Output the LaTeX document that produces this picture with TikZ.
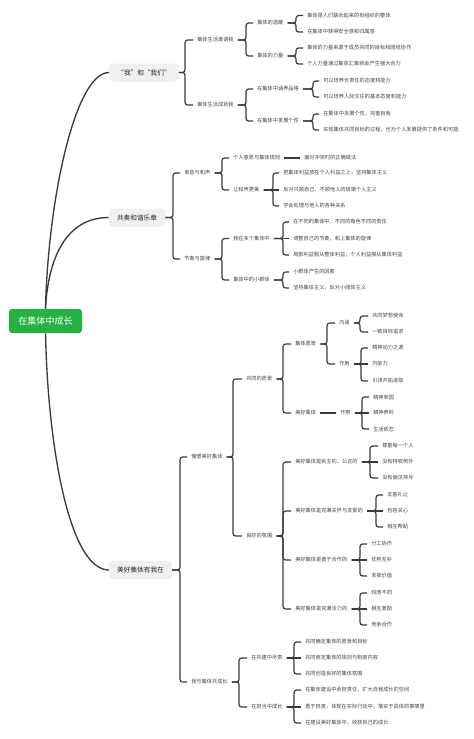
\documentclass[tikz,border=0pt]{standalone}
\usepackage{fontspec}
\setmainfont{Noto Sans CJK SC}

\definecolor{rootgreen}{RGB}{38,178,66}
\definecolor{boxgray}{RGB}{240,240,240}
\definecolor{linegray}{RGB}{58,58,58}
\definecolor{txtgray}{RGB}{68,68,68}

\tikzset{
  rootbox/.style={fill=rootgreen, text=white, rounded corners=2.25pt, minimum width=54.75pt, minimum height=18pt, inner sep=0pt, font=\fontsize{6.8pt}{8pt}\selectfont},
  mainbox/.style={fill=boxgray, text=black!85, rounded corners=2.25pt, inner xsep=6pt, inner ysep=0pt, minimum height=13.5pt, font=\fontsize{5pt}{6pt}\selectfont},
  leaf/.style={anchor=west, inner xsep=3pt, inner ysep=1pt, text=txtgray, font=\fontsize{3.9pt}{4.6pt}\selectfont},
  conn/.style={draw=linegray, line width=0.9pt, rounded corners=2pt},
  limb/.style={draw=linegray, line width=1pt},
}

\begin{document}
\begin{tikzpicture}[x=0.75pt,y=0.75pt,yscale=-1,xscale=1]
%set diagram left start at 0, and has height of 739
\useasboundingbox (0,0) rectangle (474,739);

% Root Node
\node [rootbox] (root) at (45.5,321) {在集体中成长};

% Main Nodes
\node [mainbox] (a) at (144,72.5) {“我”和“我们”};
\node [mainbox] (b) at (137,217.5) {共奏和谐乐章};
\node [mainbox] (c) at (140.5,570) {美好集体有我在};

%Curve Lines
\draw [limb] (root.north) .. controls (48,200) and (75,72.5) .. (a.west);
\draw [limb] (root.north) .. controls (48,260) and (65,217.5) .. (b.west);
\draw [limb] (root.south) .. controls (48,450) and (70,570) .. (c.west);

% Text Node --- "我"和"我们"
\node [leaf] (a1) at (193,40) {集体生活邀请我};
\node [leaf] (a2) at (193,105) {集体生活成就我};
\node [leaf] (a11) at (253,23) {集体的温暖};
\node [leaf] (a12) at (253,56) {集体的力量};
\node [leaf] (a21) at (253,89) {在集体中涵养品格};
\node [leaf] (a22) at (253,121) {在集体中发展个性};
\node [leaf] (a111) at (303,15.5) {集体是人们联合起来的有组织的整体};
\node [leaf] (a112) at (303,32) {在集体中获得安全感和归属感};
\node [leaf] (a121) at (303,48) {集体的力量来源于成员共同的目标和团结协作};
\node [leaf] (a122) at (303,64) {个人力量通过集体汇聚就会产生强大合力};
\node [leaf] (a211) at (319,81) {可以培养负责任的态度和能力};
\node [leaf] (a212) at (319,97) {可以培养人际交往的基本态度和能力};
\node [leaf] (a221) at (319,114) {在集体中发展个性，完善自我};
\node [leaf] (a222) at (319,130) {实现集体共同目标的过程，也为个人发展提供了条件和可能};

%Straight Lines
\draw [conn] (a1.west) -- ++(-8,0) |- (a.east);
\draw [conn] (a2.west) -- ++(-8,0) |- (a.east);
\draw [conn] (a11.west) -- ++(-7,0) |- (a1.east);
\draw [conn] (a12.west) -- ++(-7,0) |- (a1.east);
\draw [conn] (a21.west) -- ++(-7,0) |- (a2.east);
\draw [conn] (a22.west) -- ++(-7,0) |- (a2.east);
\draw [conn] (a111.west) -- ++(-7,0) |- (a11.east);
\draw [conn] (a112.west) -- ++(-7,0) |- (a11.east);
\draw [conn] (a121.west) -- ++(-7,0) |- (a12.east);
\draw [conn] (a122.west) -- ++(-7,0) |- (a12.east);
\draw [conn] (a211.west) -- ++(-6,0) |- (a21.east);
\draw [conn] (a212.west) -- ++(-6,0) |- (a21.east);
\draw [conn] (a221.west) -- ++(-6,0) |- (a22.east);
\draw [conn] (a222.west) -- ++(-6,0) |- (a22.east);

% Text Node --- 共奏和谐乐章
\node [leaf] (b1) at (180,173) {单音与和声};
\node [leaf] (b2) at (180,259) {节奏与旋律};
\node [leaf] (b11) at (229,158) {个人意愿与集体规则};
\node [leaf] (b12) at (229,190) {让和声更美};
\node [leaf] (b111) at (300,158) {面对冲突时的正确做法};
\node [leaf] (b121) at (279,173) {把集体利益放在个人利益之上，坚持集体主义};
\node [leaf] (b122) at (279,190) {反对只顾自己、不顾他人的极端个人主义};
\node [leaf] (b123) at (279,206) {学会处理与他人的各种关系};
\node [leaf] (b21) at (229,238.5) {我在多个集体中};
\node [leaf] (b22) at (229,280) {集体中的小群体};
\node [leaf] (b211) at (289,222) {在不同的集体中，不同的角色不同的责任};
\node [leaf] (b212) at (289,238.5) {调整自己的节奏，和上集体的旋律};
\node [leaf] (b213) at (289,255) {局部利益服从整体利益，个人利益服从集体利益};
\node [leaf] (b221) at (289,272) {小群体产生的因素};
\node [leaf] (b222) at (289,288) {坚持集体主义，反对小团体主义};

%Straight Lines
\draw [conn] (b1.west) -- ++(-7,0) |- (b.east);
\draw [conn] (b2.west) -- ++(-7,0) |- (b.east);
\draw [conn] (b11.west) -- ++(-7,0) |- (b1.east);
\draw [conn] (b12.west) -- ++(-7,0) |- (b1.east);
\draw [conn] (b11.east) -- (b111.west);
\draw [conn] (b121.west) -- ++(-6,0) |- (b12.east);
\draw [conn] (b12.east) -- (b122.west);
\draw [conn] (b123.west) -- ++(-6,0) |- (b12.east);
\draw [conn] (b21.west) -- ++(-7,0) |- (b2.east);
\draw [conn] (b22.west) -- ++(-7,0) |- (b2.east);
\draw [conn] (b211.west) -- ++(-6,0) |- (b21.east);
\draw [conn] (b21.east) -- (b212.west);
\draw [conn] (b213.west) -- ++(-6,0) |- (b21.east);
\draw [conn] (b221.west) -- ++(-6,0) |- (b22.east);
\draw [conn] (b222.west) -- ++(-6,0) |- (b22.east);

% Text Node --- 美好集体有我在
\node [leaf] (c1) at (187,457) {憧憬美好集体};
\node [leaf] (c2) at (187,682) {我与集体共成长};
\node [leaf] (c11) at (242,379) {共同的愿景};
\node [leaf] (c12) at (242,536) {良好的氛围};
\node [leaf] (c111) at (291,344) {集体愿景};
\node [leaf] (c112) at (291,413) {美好集体};
\node [leaf] (c1111) at (335,323) {内涵};
\node [leaf] (c1112) at (335,364) {作用};
\node [leaf] (c11111) at (368,316) {共同梦想使命};
\node [leaf] (c11112) at (368,332) {一致目标追求};
\node [leaf] (c11121) at (368,348) {精神动力之源};
\node [leaf] (c11122) at (368,364) {内驱力};
\node [leaf] (c11123) at (368,381) {引领开拓进取};
\node [leaf] (c1121) at (336,413) {作用};
\node [leaf] (c11211) at (369,397) {精神家园};
\node [leaf] (c11212) at (369,413) {精神养料};
\node [leaf] (c11213) at (369,429) {生活依恋};
\node [leaf] (c121) at (291,462) {美好集体是民主的、公正的};
\node [leaf] (c1211) at (378,446) {尊重每一个人};
\node [leaf] (c1212) at (378,462) {没有特权例外};
\node [leaf] (c1213) at (378,478) {没有偏见排斥};
\node [leaf] (c122) at (291,511) {美好集体是充满关怀与友爱的};
\node [leaf] (c1221) at (383,495) {友善礼让};
\node [leaf] (c1222) at (383,511) {包容关心};
\node [leaf] (c1223) at (383,527) {相互帮助};
\node [leaf] (c123) at (291,560) {美好集体是善于合作的};
\node [leaf] (c1231) at (367,544) {分工协作};
\node [leaf] (c1232) at (367,560) {优势互补};
\node [leaf] (c1233) at (367,576) {发挥价值};
\node [leaf] (c124) at (291,609) {美好集体是充满活力的};
\node [leaf] (c1241) at (367,593) {和而不同};
\node [leaf] (c1242) at (367,609) {相互激励};
\node [leaf] (c1243) at (367,625) {竞争合作};
\node [leaf] (c21) at (247,658) {在共建中尽责};
\node [leaf] (c22) at (247,707) {在担当中成长};
\node [leaf] (c211) at (301,642) {共同确定集体的愿景和目标};
\node [leaf] (c212) at (301,658) {共同商定集体的规则与制度内容};
\node [leaf] (c213) at (301,674) {共同创造良好的集体氛围};
\node [leaf] (c221) at (301,690) {在集体建设中承担责任，扩大自我成长的空间};
\node [leaf] (c222) at (301,707) {勇于担责，体现在实际行动中，落实于具体的事情里};
\node [leaf] (c223) at (301,723) {在建设美好集体中，收获自己的成长};

%Straight Lines
\draw [conn] (c1.west) -- ++(-7,0) |- (c.east);
\draw [conn] (c2.west) -- ++(-7,0) |- (c.east);
\draw [conn] (c11.west) -- ++(-9,0) |- (c1.east);
\draw [conn] (c12.west) -- ++(-9,0) |- (c1.east);
\draw [conn] (c111.west) -- ++(-8,0) |- (c11.east);
\draw [conn] (c112.west) -- ++(-8,0) |- (c11.east);
\draw [conn] (c1111.west) -- ++(-8,0) |- (c111.east);
\draw [conn] (c1112.west) -- ++(-8,0) |- (c111.east);
\draw [conn] (c11111.west) -- ++(-8,0) |- (c1111.east);
\draw [conn] (c11112.west) -- ++(-8,0) |- (c1111.east);
\draw [conn] (c11121.west) -- ++(-7,0) |- (c1112.east);
\draw [conn] (c1112.east) -- (c11122.west);
\draw [conn] (c11123.west) -- ++(-7,0) |- (c1112.east);
\draw [conn] (c112.east) -- (c1121.west);
\draw [conn] (c11211.west) -- ++(-7,0) |- (c1121.east);
\draw [conn] (c1121.east) -- (c11212.west);
\draw [conn] (c11213.west) -- ++(-7,0) |- (c1121.east);
\draw [conn] (c121.west) -- ++(-8,0) |- (c12.east);
\draw [conn] (c122.west) -- ++(-8,0) |- (c12.east);
\draw [conn] (c123.west) -- ++(-8,0) |- (c12.east);
\draw [conn] (c124.west) -- ++(-8,0) |- (c12.east);
\draw [conn] (c1211.west) -- ++(-8,0) |- (c121.east);
\draw [conn] (c121.east) -- (c1212.west);
\draw [conn] (c1213.west) -- ++(-8,0) |- (c121.east);
\draw [conn] (c1221.west) -- ++(-7,0) |- (c122.east);
\draw [conn] (c122.east) -- (c1222.west);
\draw [conn] (c1223.west) -- ++(-7,0) |- (c122.east);
\draw [conn] (c1231.west) -- ++(-7,0) |- (c123.east);
\draw [conn] (c123.east) -- (c1232.west);
\draw [conn] (c1233.west) -- ++(-7,0) |- (c123.east);
\draw [conn] (c1241.west) -- ++(-7,0) |- (c124.east);
\draw [conn] (c124.east) -- (c1242.west);
\draw [conn] (c1243.west) -- ++(-7,0) |- (c124.east);
\draw [conn] (c21.west) -- ++(-8,0) |- (c2.east);
\draw [conn] (c22.west) -- ++(-8,0) |- (c2.east);
\draw [conn] (c211.west) -- ++(-7,0) |- (c21.east);
\draw [conn] (c21.east) -- (c212.west);
\draw [conn] (c213.west) -- ++(-7,0) |- (c21.east);
\draw [conn] (c221.west) -- ++(-7,0) |- (c22.east);
\draw [conn] (c22.east) -- (c222.west);
\draw [conn] (c223.west) -- ++(-7,0) |- (c22.east);

\end{tikzpicture}
\end{document}
